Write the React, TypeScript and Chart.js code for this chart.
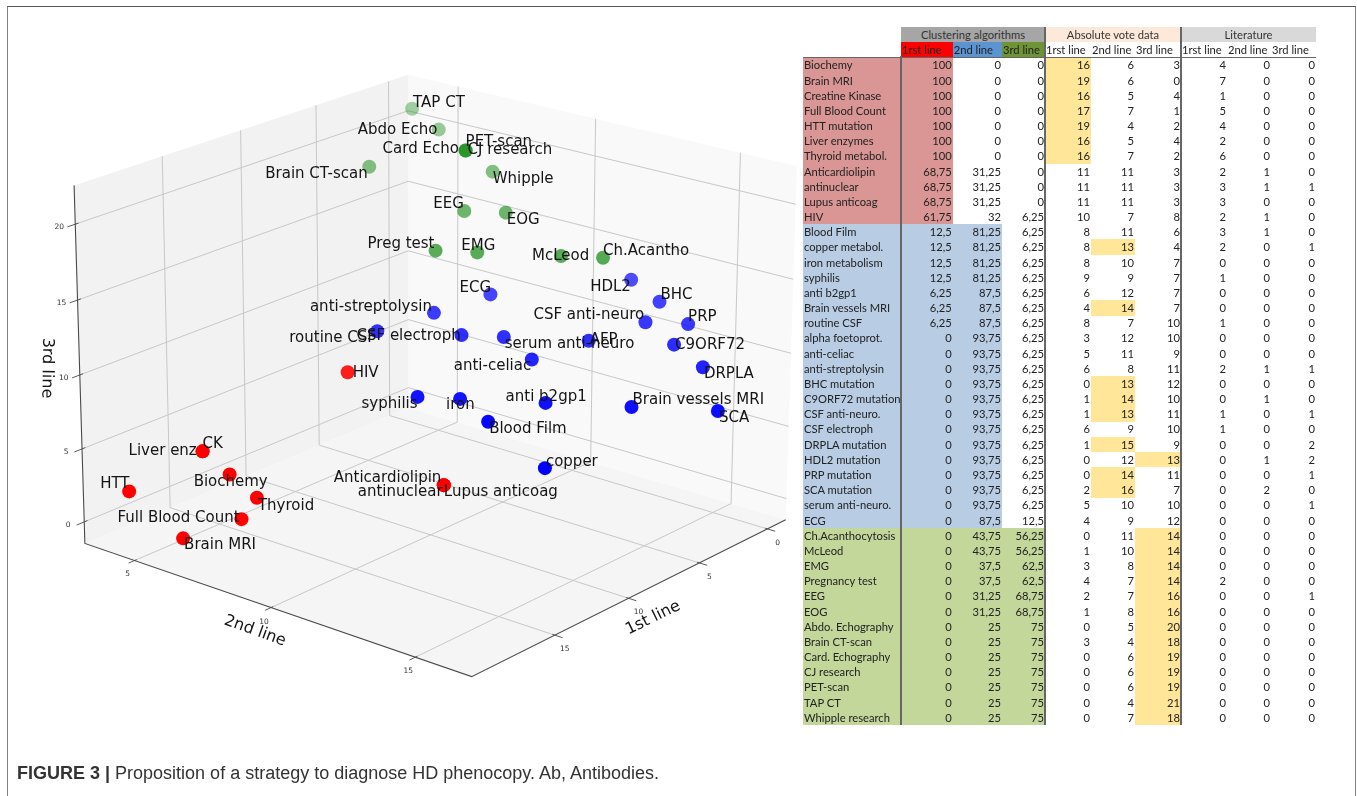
import React, { useEffect, useRef } from "react";
import { Chart, registerables } from "chart.js";
Chart.register(...registerables);

// ---------- data ----------
const rowNames = ["Biochemy","Brain MRI","Creatine Kinase","Full Blood Count","HTT mutation","Liver enzymes","Thyroid metabol.","Anticardiolipin","antinuclear","Lupus anticoag","HIV","Blood Film","copper metabol.","iron metabolism","syphilis","anti b2gp1","Brain vessels MRI","routine CSF","alpha foetoprot.","anti-celiac","anti-streptolysin","BHC mutation","C9ORF72 mutation","CSF anti-neuro.","CSF electroph","DRPLA mutation","HDL2 mutation","PRP mutation","SCA mutation","serum anti-neuro.","ECG","Ch.Acanthocytosis","McLeod","EMG","Pregnancy test","EEG","EOG","Abdo. Echography","Brain CT-scan","Card. Echography","CJ research","PET-scan","TAP CT","Whipple research"];
const pointLabels = ["Biochemy","Brain MRI","CK","Full Blood Count","HTT","Liver enz","Thyroid","Anticardiolipin","antinuclear","Lupus anticoag","HIV","Blood Film","copper","iron","syphilis","anti b2gp1","Brain vessels MRI","routine CSF","AFP","anti-celiac","anti-streptolysin","BHC","C9ORF72","CSF anti-neuro","CSF electroph","DRPLA","HDL2","PRP","SCA","serum anti-neuro","ECG","Ch.Acantho","McLeod","EMG","Preg test","EEG","EOG","Abdo Echo","Brain CT-scan","Card Echo","CJ research","PET-scan","TAP CT","Whipple"];
const clusterSizes = [11, 20, 13];
const clust1 = ["100","100","100","100","100","100","100","68,75","68,75","68,75","61,75","12,5","12,5","12,5","12,5","6,25","6,25","6,25","0","0","0","0","0","0","0","0","0","0","0","0","0","0","0","0","0","0","0","0","0","0","0","0","0","0"];
const clust2 = ["0","0","0","0","0","0","0","31,25","31,25","31,25","32","81,25","81,25","81,25","81,25","87,5","87,5","87,5","93,75","93,75","93,75","93,75","93,75","93,75","93,75","93,75","93,75","93,75","93,75","93,75","87,5","43,75","43,75","37,5","37,5","31,25","31,25","25","25","25","25","25","25","25"];
const clust3 = ["0","0","0","0","0","0","0","0","0","0","6,25","6,25","6,25","6,25","6,25","6,25","6,25","6,25","6,25","6,25","6,25","6,25","6,25","6,25","6,25","6,25","6,25","6,25","6,25","6,25","12,5","56,25","56,25","62,5","62,5","68,75","68,75","75","75","75","75","75","75","75"];
const abs1 = [16,19,16,17,19,16,16,11,11,11,10,8,8,8,9,6,4,8,3,5,6,0,1,1,6,1,0,0,2,5,4,0,1,3,4,2,1,0,3,0,0,0,0,0];
const abs2 = [6,6,5,7,4,5,7,11,11,11,7,11,13,10,9,12,14,7,12,11,8,13,14,13,9,15,12,14,16,10,9,11,10,8,7,7,8,5,4,6,6,6,4,7];
const abs3 = [3,0,4,1,2,4,2,3,3,3,8,6,4,7,7,7,7,10,10,9,11,12,10,11,10,9,13,11,7,10,12,14,14,14,14,16,16,20,18,19,19,19,21,18];
const lit1 = [4,7,1,5,4,2,6,2,3,3,2,3,2,0,1,0,0,1,0,0,2,0,0,1,1,0,0,0,0,0,0,0,0,0,2,0,0,0,0,0,0,0,0,0];
const lit2 = [0,0,0,0,0,0,0,1,1,0,1,1,0,0,0,0,0,0,0,0,1,0,1,0,0,0,1,0,2,0,0,0,0,0,0,0,0,0,0,0,0,0,0,0];
const lit3 = [0,0,0,0,0,0,0,0,1,0,0,0,1,0,0,0,0,0,0,0,1,0,0,1,0,2,2,1,0,1,0,0,0,0,0,1,0,0,0,0,0,0,0,0];
const groupTitles = ["Clustering algorithms", "Absolute vote data", "Literature"];
const lineTitles = ["1rst line", "2nd line", "3rd line"];
const ticksA = [0, 5, 10, 15];
const ticksB = [5, 10, 15];
const ticksC = [0, 5, 10, 15, 20];

// ---------- 3D camera and axis box ----------
const CAM = [-15.05186,23.382984,-0.49624214,310.97962,4.2288356,5.5763437,-13.829306,372.15012,-0.0036010433,-0.0048185976,-0.0011627538];
const [A0, A1, B0, B1, C0, C1] = [-1.37, 20.394, 3.112, 16.88, -1.486, 22.533];
const proj = (a: number, b: number, c: number) => {
  const w = CAM[8] * a + CAM[9] * b + CAM[10] * c + 1;
  return { x: (CAM[0] * a + CAM[1] * b + CAM[2] * c + CAM[3]) / w, y: (CAM[4] * a + CAM[5] * b + CAM[6] * c + CAM[7]) / w };
};
type V = [number, number, number];
const path = (...pts: V[]) => pts.map((p) => proj(p[0], p[1], p[2]));

// text offset of each point's label from its marker
const labelOffsets = [[-36,7],[1,6],[0,-8],[-124,-2],[-29,-8],[-74,-1],[1,7],[-110,-8],[-86,6],[0,6],[5,0],[1,6],[1,-7],[-14,5],[-56,6],[-40,-7],[1,-8],[-88,6],[1,-2],[-78,6],[-124,-7],[1,-8],[1,-1],[-112,-8],[-105,0],[1,6],[-41,6],[0,-8],[1,6],[1,6],[-31,-7],[0,-8],[-29,-1],[-16,-7],[-68,-8],[-31,-8],[1,6],[-81,0],[-104,6],[-83,-2],[2,-1],[0,-9],[1,-7],[0,6]];
const CLUSTER_COLORS = [[255, 0, 0], [0, 0, 255], [0, 128, 0]];
const depthAlpha = (a: number, b: number) => Math.max(0.3, Math.min(1, 0.18 + 0.04 * a + 0.043 * b));

function buildDatasets() {
  const ds: any[] = [];
  const poly = (pts: V[], color: string) =>
    ds.push({ data: path(...pts, pts[0]), showLine: true, fill: "shape", backgroundColor: color, borderWidth: 0, pointRadius: 0, order: 50, tension: 0 });
  poly([[A1,B0,C0],[A0,B0,C0],[A0,B0,C1],[A1,B0,C1]], "#f2f2f2");
  poly([[A0,B0,C0],[A0,B1,C0],[A0,B1,C1],[A0,B0,C1]], "#f9f9f9");
  poly([[A0,B0,C0],[A1,B0,C0],[A1,B1,C0],[A0,B1,C0]], "#f5f5f5");
  const line = (pts: V[], color: string, width: number, order: number) =>
    ds.push({ data: path(...pts), showLine: true, borderColor: color, borderWidth: width, pointRadius: 0, order, tension: 0 });
  const GRID = "#c8c8c8";
  ticksA.forEach((t) => line([[t,B1,C0],[t,B0,C0],[t,B0,C1]], GRID, 1, 40));
  ticksB.forEach((t) => line([[A1,t,C0],[A0,t,C0],[A0,t,C1]], GRID, 1, 40));
  ticksC.forEach((t) => line([[A1,B0,t],[A0,B0,t],[A0,B1,t]], GRID, 1, 40));
  const AXIS = "#4a4a4a";
  line([[A1,B0,C1],[A1,B0,C0],[A1,B1,C0],[A0,B1,C0]], AXIS, 1.1, 30);
  ticksA.forEach((t) => line([[t,B1-0.08,C0],[t,B1+0.26,C0]], AXIS, 0.9, 30));
  ticksB.forEach((t) => line([[A1-0.13,t,C0],[A1+0.37,t,C0]], AXIS, 0.9, 30));
  ticksC.forEach((t) => line([[A1-0.2,B0,t],[A1+0.47,B0,t]], AXIS, 0.9, 30));
  let start = 0;
  clusterSizes.forEach((size, g) => {
    const [r, gg, b] = CLUSTER_COLORS[g];
    const data = [];
    for (let i = start; i < start + size; i++) {
      const p = proj(abs1[i], abs2[i], abs3[i]);
      data.push({ x: p.x, y: p.y, idx: i });
    }
    start += size;
    ds.push({
      data,
      showLine: false,
      pointRadius: 7,
      pointHoverRadius: 7,
      pointBorderWidth: 0,
      order: 10 - g,
      backgroundColor: (ctx: any) => {
        const i = ctx.raw ? ctx.raw.idx : 0;
        return `rgba(${r},${gg},${b},${depthAlpha(abs1[i], abs2[i])})`;
      },
    });
  });
  return ds;
}

const sceneText = {
  id: "sceneText",
  afterDatasetsDraw(chart: any) {
    const { ctx, scales } = chart;
    const px = (p: { x: number; y: number }) => ({ x: scales.x.getPixelForValue(p.x), y: scales.y.getPixelForValue(p.y) });
    ctx.save();
    ctx.fillStyle = "#141414";
    ctx.textBaseline = "middle";
    ctx.textAlign = "left";
    ctx.font = "15px 'DejaVu Sans'";
    pointLabels.forEach((label, i) => {
      const p = px(proj(abs1[i], abs2[i], abs3[i]));
      ctx.fillText(label, p.x + labelOffsets[i][0], p.y + labelOffsets[i][1] + 1);
    });
    ctx.textAlign = "center";
    ctx.font = "7.5px 'DejaVu Sans'";
    ctx.fillStyle = "#333";
    ticksA.forEach((t) => { const p = px(proj(t, B1, C0)); ctx.fillText(String(t), p.x + 10, p.y + 14); });
    ticksB.forEach((t) => { const p = px(proj(A1, t, C0)); ctx.fillText(String(t), p.x - 7, p.y + 14); });
    ticksC.forEach((t) => { const p = px(proj(A1, B0, t)); ctx.fillText(String(t), p.x - 16, p.y + 3); });
    ctx.font = "16px 'DejaVu Sans'";
    ctx.fillStyle = "#141414";
    const titled = (s: string, x: number, y: number, deg: number) => {
      ctx.save();
      ctx.translate(x, y);
      ctx.rotate((deg * Math.PI) / 180);
      ctx.fillText(s, 0, 0);
      ctx.restore();
    };
    titled("3rd line", 47, 368, 91);
    titled("2nd line", 255, 631, 20);
    titled("1st line", 653, 618, -26);
    ctx.restore();
  },
};

// ---------- table ----------
const COL = [803, 901, 952.7, 1002, 1045, 1091, 1135, 1181, 1227, 1271, 1316];
const ROW_H = 15.17;
const ROW_TOP = 57.4;
const ROW_FILL = ["#da9694", "#b8cce4", "#c4d79b"];
const HILITE = "#ffe699";
const clusterOf = (i: number) => (i < clusterSizes[0] ? 0 : i < clusterSizes[0] + clusterSizes[1] ? 1 : 2);
const TABLE_FONT = "Lato, sans-serif";

function Cell(p: { l: number; r: number; t: number; h: number; bg?: string; text?: string; align?: string; color?: string }) {
  return (
    <div style={{ position: "absolute", left: p.l, width: p.r - p.l, top: p.t, height: p.h + 0.5, lineHeight: p.h + "px", background: p.bg, textAlign: (p.align || "right") as any, color: p.color || "#222", paddingRight: p.align ? 0 : 1, paddingLeft: p.align === "left" ? 1 : 0, boxSizing: "border-box", whiteSpace: "nowrap" }}>
      {p.text}
    </div>
  );
}

function Table() {
  const cells: React.ReactNode[] = [];
  const groupBg = ["#a6a6a6", "#fde9d9", "#d9d9d9"];
  groupTitles.forEach((t, g) => {
    cells.push(<Cell key={"g" + g} l={COL[1 + g * 3]} r={COL[4 + g * 3]} t={26.7} h={15} bg={groupBg[g]} text={t} align="center" color="#333" />);
    lineTitles.forEach((s, k) => {
      const bg = g === 0 ? ["#ff0000", "#5b94d3", "#6f9436"][k] : undefined;
      cells.push(<Cell key={"h" + g + k} l={COL[1 + g * 3 + k]} r={COL[2 + g * 3 + k]} t={41.7} h={15} bg={bg} text={s} align="left" color="#222" />);
    });
  });
  rowNames.forEach((name, i) => {
    const t = ROW_TOP + i * ROW_H;
    const cl = clusterOf(i);
    const fill = ROW_FILL[cl];
    cells.push(<Cell key={"n" + i} l={COL[0]} r={COL[1]} t={t} h={ROW_H} bg={fill} text={name} align="left" />);
    const clust = [clust1[i], clust2[i], clust3[i]];
    clust.forEach((v, k) => cells.push(<Cell key={"c" + i + k} l={COL[1 + k]} r={COL[2 + k]} t={t} h={ROW_H} bg={k <= cl ? fill : undefined} text={v} />));
    [abs1[i], abs2[i], abs3[i]].forEach((v, k) => cells.push(<Cell key={"a" + i + k} l={COL[4 + k]} r={COL[5 + k]} t={t} h={ROW_H} bg={v >= 13 ? HILITE : undefined} text={String(v)} />));
    [lit1[i], lit2[i], lit3[i]].forEach((v, k) => cells.push(<Cell key={"l" + i + k} l={COL[7 + k]} r={COL[8 + k]} t={t} h={ROW_H} text={String(v)} />));
  });
  const rule = (l: number, t: number, w: number, h: number, k: string) => (
    <div key={k} style={{ position: "absolute", left: l, top: t, width: w, height: h, background: "#666" }} />
  );
  const bottom = ROW_TOP + rowNames.length * ROW_H;
  return (
    <div style={{ fontFamily: TABLE_FONT, fontSize: 11.2, filter: "blur(0.3px)" }}>
      {cells}
      {rule(COL[1] - 0.7, 56, 1.4, bottom - 56, "v1")}
      {rule(COL[4] - 0.7, 26.7, 1.4, bottom - 26.7, "v2")}
      {rule(COL[7] - 0.7, 26.7, 1.4, bottom - 26.7, "v3")}
      {rule(COL[0], 56.5, COL[10] - COL[0], 1.3, "h1")}
    </div>
  );
}

export default function App() {
  const ref = useRef<HTMLCanvasElement>(null);
  useEffect(() => {
    document.body.style.margin = "0";
    const chart = new Chart(ref.current!, {
      type: "scatter",
      data: { datasets: buildDatasets() },
      plugins: [sceneText],
      options: {
        animation: false,
        responsive: false,
        events: [],
        layout: { padding: 0, autoPadding: false },
        elements: { line: { tension: 0 } },
        plugins: { legend: { display: false }, tooltip: { enabled: false }, title: { display: false } },
        scales: {
          x: { type: "linear", min: 0, max: 800, display: false },
          y: { type: "linear", min: 0, max: 796, reverse: true, display: false },
        },
      } as any,
    });
    return () => chart.destroy();
  }, []);
  return (
    <div style={{ position: "fixed", left: 0, top: 0, width: 1357, height: 796, overflow: "hidden", background: "#fff" }}>
      <canvas ref={ref} width={800} height={796} style={{ position: "absolute", left: 0, top: 0, width: 800, height: 796, filter: "blur(0.3px)" }} />
      <Table />
      <div style={{ position: "absolute", left: 7, top: 6, width: 1349, height: 900, boxSizing: "border-box", borderTop: "1.5px solid #555", borderLeft: "1.5px solid #808080", borderRight: "1.5px solid #808080" }} />
      <div style={{ position: "absolute", left: 17, top: 763, fontFamily: "'Liberation Sans', sans-serif", fontSize: 18, lineHeight: "20px", color: "#333", whiteSpace: "nowrap" }}>
        <b>FIGURE 3 |</b> Proposition of a strategy to diagnose HD phenocopy. Ab, Antibodies.
      </div>
    </div>
  );
}
